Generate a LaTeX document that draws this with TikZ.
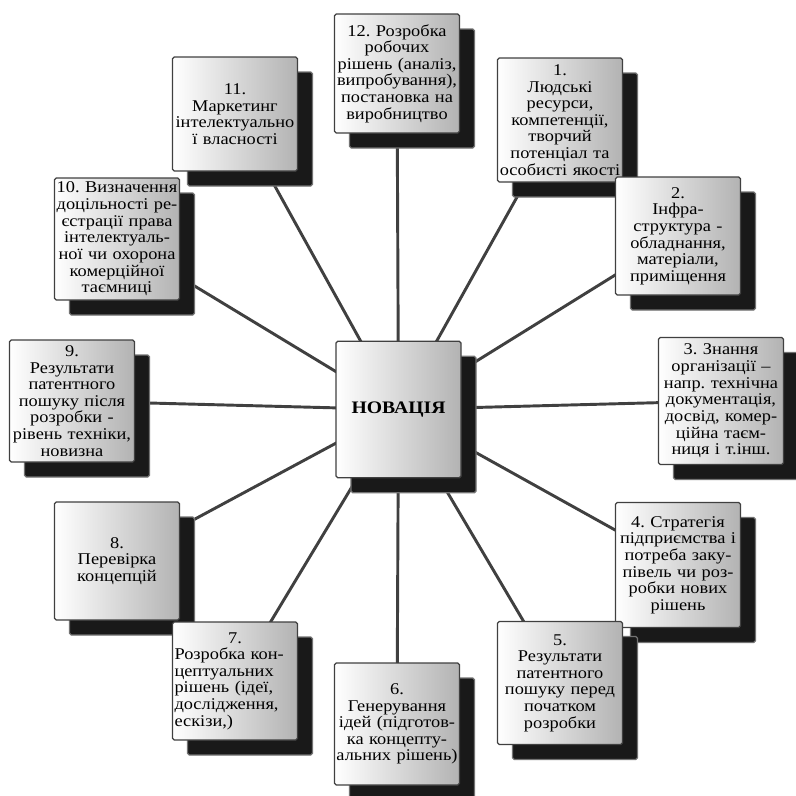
\documentclass[tikz,border=0pt]{standalone}
\usepackage{fontspec}
\setmainfont{Liberation Serif}[FakeStretch=1.12]
\usetikzlibrary{shadows}
\frenchspacing

\begin{document}
\begin{tikzpicture}[x=0.3mm,y=-0.3mm,
	box/.style={draw=black!75, line width=1.1pt, rounded corners=1.5pt,
		left color=white, right color=black!30,
		text width=36.3mm, inner xsep=0.6mm, inner ysep=1mm, align=center,
		font=\fontsize{14}{14.2}\selectfont,
		drop shadow={shadow xshift=4.5mm, shadow yshift=-4.5mm, fill=black!90, draw=black!55, opacity=1}},
	spoke/.style={line width=2.5pt, draw=black!75}]
	\pgfdeclarelayer{bg}    % spokes go below the boxes
	\pgfsetlayers{bg,main}
	\useasboundingbox (0,0) rectangle (796,795);

	% Centre
	\node [box, minimum height=41mm, font=\fontsize{15}{16}\selectfont\bfseries] (nov) at (398.5,409.5) {НОВАЦІЯ};

	% Upper half
	\node [box, minimum height=35.7mm] (b12) at (397,73.5) {12. Розробка\\робочих\\рішень (аналіз,\\випробування),\\постановка на\\виробництво};
	\node [box, minimum height=34.2mm] (b11) at (235,114) {11.\\Маркетинг\\інтелектуально\\ї власності};
	\node [box, minimum height=37.2mm] (b1) at (560,120) {1.\\Людські\\ресурси,\\компетенції,\\творчий\\потенціал та\\особисті якості};
	\node [box, minimum height=36.6mm] (b10) at (117,239) {10. Визначення\\доцільності ре-\\єстрації права\\інтелектуаль-\\ної чи охорона\\комерційної\\таємниці};
	\node [box, minimum height=35.4mm] (b2) at (678,236) {2.\\Інфра-\\структура -\\обладнання,\\матеріали,\\приміщення};

	% Middle row
	\node [box, minimum height=36.6mm] (b9) at (72,401) {9.\\Результати\\патентного\\пошуку після\\розробки -\\рівень техніки,\\новизна};
	\node [box, minimum height=38.1mm] (b3) at (721,401) {3. Знання\\організації –\\напр. технічна\\документація,\\досвід, комер-\\ційна таєм-\\ниця і т.інш.};

	% Lower half
	\node [box, minimum height=37.5mm] (b4) at (678,565) {4. Стратегія\\підприємства і\\потреба заку-\\півель чи роз-\\робки нових\\рішень};
	\node [box, minimum height=35.4mm] (b8) at (117,561) {8.\\Перевірка\\концепцій};
	\node [box, minimum height=35.4mm, align=left] (b7) at (235,681) {\hfill 7.\hfill\null\\Розробка кон-\\цептуальних\\рішень (ідеї,\\дослідження,\\ескізи,)};
	\node [box, minimum height=36.6mm] (b6) at (397,724) {6.\\Генерування\\ідей (підготов-\\ка концепту-\\\makebox[0pt]{альних рішень)}};
	\node [box, minimum height=36.9mm] (b5) at (560,683) {5.\\Результати\\патентного\\пошуку перед\\початком\\розробки};

	% Spokes
	\begin{pgfonlayer}{bg}
		\foreach \i in {1,...,12}
			\draw [spoke] (nov.center) -- (b\i.center);
	\end{pgfonlayer}
\end{tikzpicture}
\end{document}
